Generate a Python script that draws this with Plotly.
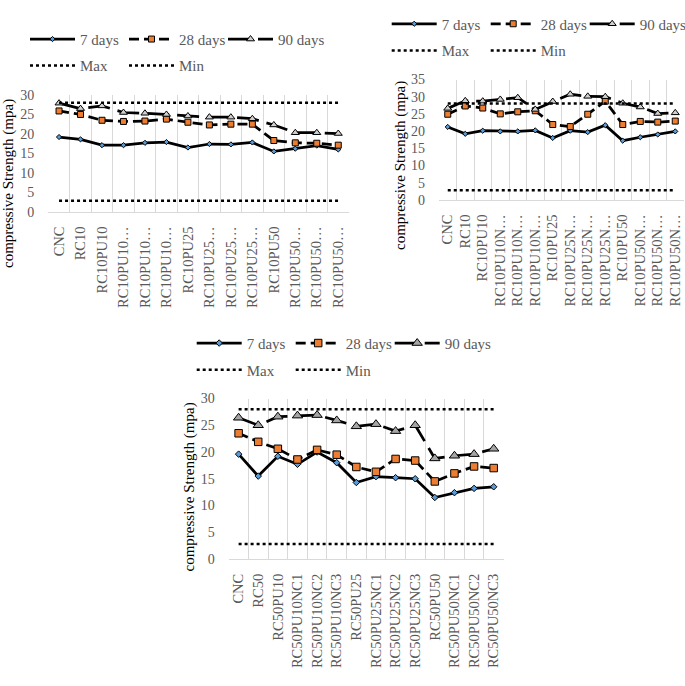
import plotly.graph_objects as go

# ---------------- data ----------------
labels_1 = ["CNC", "RC10", "RC10PU10", "RC10PU10…", "RC10PU10…", "RC10PU10…",
            "RC10PU25", "RC10PU25…", "RC10PU25…", "RC10PU25…",
            "RC10PU50", "RC10PU50…", "RC10PU50…", "RC10PU50…"]
d7_1 = [19.2, 18.6, 17.1, 17.1, 17.7, 17.9, 16.5, 17.4, 17.3, 17.8, 15.5, 16.2, 17.0, 16.0]
d28_1 = [25.9, 25.0, 23.5, 23.2, 23.3, 23.8, 23.0, 22.3, 22.5, 22.5, 18.3, 17.7, 17.6, 17.1]
d90_1 = [27.9, 26.5, 27.2, 25.5, 25.3, 25.0, 24.6, 24.3, 24.3, 23.9, 22.3, 20.3, 20.3, 20.1]

labels_2 = ["CNC", "RC10", "RC10PU10", "RC10PU10N…", "RC10PU10N…", "RC10PU10N…",
            "RC10PU25", "RC10PU25N…", "RC10PU25N…", "RC10PU25N…",
            "RC10PU50", "RC10PU50N…", "RC10PU50N…", "RC10PU50N…"]
d7_2 = [21.2, 19.2, 20.1, 19.9, 19.9, 20.2, 18.0, 20.1, 19.7, 21.7, 17.2, 18.2, 19.0, 19.9]
d28_2 = [24.9, 27.3, 26.7, 25.0, 25.6, 25.9, 21.9, 21.3, 24.9, 28.7, 21.9, 22.8, 22.6, 22.9]
d90_2 = [26.6, 28.8, 28.7, 29.2, 29.7, 26.3, 28.6, 30.7, 30.1, 30.0, 28.1, 27.0, 25.1, 25.3]

labels_3 = ["CNC", "RC50", "RC50PU10", "RC50PU10NC1", "RC50PU10NC2", "RC50PU10NC3",
            "RC50PU25", "RC50PU25NC1", "RC50PU25NC2", "RC50PU25NC3",
            "RC50PU50", "RC50PU50NC1", "RC50PU50NC2", "RC50PU50NC3"]
d7_3 = [19.6, 15.5, 19.2, 17.7, 20.0, 18.0, 14.3, 15.4, 15.2, 15.0, 11.5, 12.4, 13.2, 13.5]
d28_3 = [23.5, 21.9, 20.6, 18.6, 20.4, 19.5, 17.2, 16.3, 18.7, 18.4, 14.5, 16.0, 17.3, 17.0]
d90_3 = [26.4, 25.0, 26.6, 26.8, 26.9, 25.9, 24.8, 25.2, 23.9, 25.0, 18.8, 19.3, 19.6, 20.6]

max_line = [28.0, 28.0, 28.0, 28.0, 28.0, 28.0, 28.0, 28.0, 28.0, 28.0, 28.0, 28.0, 28.0, 28.0]
min_line = [2.8, 2.8, 2.8, 2.8, 2.8, 2.8, 2.8, 2.8, 2.8, 2.8, 2.8, 2.8, 2.8, 2.8]

series_names = ["7 days", "28 days", "90 days", "Max", "Min"]
y_title = "compressive Strength (mpa)"

# ---------------- layout helpers ----------------
W, H = 685, 686
FONT = "Liberation Serif"
GRAY = "#595959"
GRID = "#D9D9D9"
LEG_OFFSET = 5    # px between legend origin and start of its line sample
COL = 99          # legend column spacing (px)


def fx(px):
    return px / W


def fy(py):
    return 1 - py / H


charts = [
    dict(labels=labels_1, d7=d7_1, d28=d28_1, d90=d90_1, ax="", yr=[0, 30],
         xdom=[48.3, 349], ydom=[211.7, 95], leg=(30, 39.3, 65.7), tri="#D0D0D0", tsz=7,
         dsz=4, ssz=6, title=(9, 184)),
    dict(labels=labels_2, d7=d7_2, d28=d28_2, d90=d90_2, ax="2", yr=[0, 35],
         xdom=[439, 684], ydom=[199.8, 79.5], leg=(391.7, 24, 50.7), tri="#D0D0D0", tsz=7,
         dsz=4, ssz=6, title=(400, 165)),
    dict(labels=labels_3, d7=d7_3, d28=d28_3, d90=d90_3, ax="3", yr=[0, 30],
         xdom=[228.8, 503.5], ydom=[559, 398.5], leg=(196.7, 343.3, 370), tri="#A5A5A5", tsz=9,
         dsz=5, ssz=7.5, title=(189, 487.5)),
]

fig = go.Figure()
layout_updates = {}
annotations = []
leg_counter = [0]


def new_legend(x_px, y_px):
    leg_counter[0] += 1
    key = "legend" if leg_counter[0] == 1 else "legend%d" % leg_counter[0]
    layout_updates[key] = dict(
        x=fx(x_px - LEG_OFFSET), y=fy(y_px), xanchor="left", yanchor="middle",
        orientation="h", bgcolor="rgba(0,0,0,0)", borderwidth=0,
        font=dict(family=FONT, size=15, color=GRAY),
        itemwidth=45, itemclick=False, itemdoubleclick=False)
    return key


for i, c in enumerate(charts):
    xs = list(range(len(c["labels"])))
    xa = "x" + c["ax"]
    ya = "y" + c["ax"]
    lx, ly1, ly2 = c["leg"]
    legs = [new_legend(lx, ly1), new_legend(lx + COL, ly1), new_legend(lx + 2 * COL, ly1),
            new_legend(lx, ly2), new_legend(lx + COL, ly2)]

    fig.add_trace(go.Scatter(
        x=xs, y=c["d7"], name=series_names[0], mode="lines+markers", xaxis=xa, yaxis=ya,
        legend=legs[0],
        line=dict(color="black", width=2.75),
        marker=dict(symbol="diamond", size=c["dsz"], color="#5B9BD5",
                    line=dict(color="black", width=1))))
    fig.add_trace(go.Scatter(
        x=xs, y=c["d28"], name=series_names[1], mode="lines+markers", xaxis=xa, yaxis=ya,
        legend=legs[1],
        line=dict(color="black", width=2.75, dash="10px,5px"),
        marker=dict(symbol="square", size=c["ssz"], color="#ED7D31",
                    line=dict(color="black", width=1))))
    fig.add_trace(go.Scatter(
        x=xs, y=c["d90"], name=series_names[2], mode="lines+markers", xaxis=xa, yaxis=ya,
        legend=legs[2],
        line=dict(color="black", width=2.75, dash="22px,8px"),
        marker=dict(symbol="triangle-up", size=c["tsz"], color=c["tri"],
                    line=dict(color="black", width=1))))
    fig.add_trace(go.Scatter(
        x=xs, y=max_line, name=series_names[3], mode="lines", xaxis=xa, yaxis=ya,
        legend=legs[3], line=dict(color="black", width=2.5, dash="3px,3px")))
    fig.add_trace(go.Scatter(
        x=xs, y=min_line, name=series_names[4], mode="lines", xaxis=xa, yaxis=ya,
        legend=legs[4], line=dict(color="black", width=2.5, dash="3px,3px")))

    xkey = "xaxis" + c["ax"]
    ykey = "yaxis" + c["ax"]
    layout_updates[xkey] = dict(
        domain=[fx(c["xdom"][0]), fx(c["xdom"][1])],
        anchor=ya, type="linear", range=[-0.5, len(xs) - 0.5], automargin=False,
        tickmode="array", tickvals=xs, ticktext=c["labels"], tickangle=-90,
        tickfont=dict(family=FONT, size=14.5, color=GRAY),
        ticklabelstandoff=8,
        showgrid=False, zeroline=False, showline=True, linecolor=GRID, linewidth=1,
        ticks="",
        minor=dict(tickmode="linear", tick0=-0.5, dtick=1, showgrid=True,
                   gridcolor=GRID, gridwidth=1, ticks=""),
        fixedrange=True)
    layout_updates[ykey] = dict(
        domain=[fy(c["ydom"][0]), fy(c["ydom"][1])],
        anchor=xa, range=c["yr"], tickmode="linear", tick0=0, dtick=5, automargin=False,
        tickfont=dict(family=FONT, size=14, color=GRAY),
        ticklabelstandoff=13,
        showgrid=False, zeroline=False, showline=False, ticks="",
        fixedrange=True)

    tx, ty = c["title"]
    annotations.append(dict(
        text=y_title, x=fx(tx), y=fy(ty), xref="paper", yref="paper",
        showarrow=False, textangle=-90, xanchor="center", yanchor="middle",
        font=dict(family=FONT, size=15, color="black")))

fig.update_layout(
    width=W, height=H,
    margin=dict(l=0, r=0, t=0, b=0, autoexpand=False),
    paper_bgcolor="white", plot_bgcolor="white",
    showlegend=True, hovermode=False,
    annotations=annotations,
    **layout_updates)

fig.write_html("out.html", config={"displayModeBar": False, "staticPlot": True},
               post_script="document.body.style.margin='0px';")
